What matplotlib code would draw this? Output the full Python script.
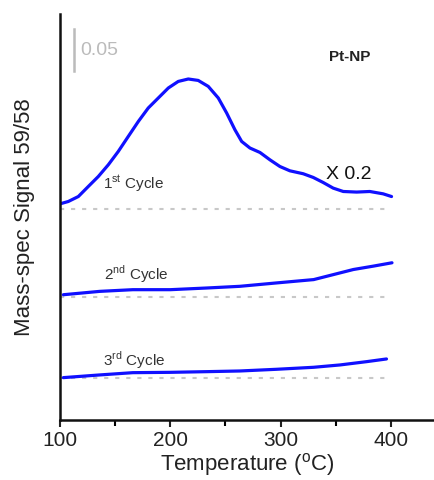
import matplotlib
matplotlib.use("Agg")
import matplotlib.pyplot as plt
from matplotlib.ticker import MultipleLocator

plt.rcParams['font.family'] = ['Liberation Sans', 'DejaVu Sans']
plt.rcParams['mathtext.fontset'] = 'custom'
plt.rcParams['mathtext.rm'] = 'Liberation Sans'

# Data (signal units; 1st cycle shown x 0.2 and offset)
t1 = [100, 107.5, 116.6, 125.6, 134.7, 143.8, 152.8, 161.9, 171.0, 180.0, 189.1,
      198.2, 207.2, 216.3, 225.3, 234.4, 243.5, 251.1, 258.6, 264.7, 272.2, 281.3,
      290.3, 299.4, 308.4, 320.5, 329.6, 338.6, 347.7, 356.8, 368.9, 380.9, 393.0, 400.6]
s1 = [0.2571, 0.2599, 0.2658, 0.2777, 0.2896, 0.3036, 0.3194, 0.3373, 0.3551, 0.3711,
      0.3830, 0.3949, 0.4027, 0.4056, 0.4039, 0.3968, 0.3830, 0.3651, 0.3452, 0.3313,
      0.3235, 0.3182, 0.3095, 0.3015, 0.2964, 0.2929, 0.2885, 0.2825, 0.2758, 0.2718,
      0.2711, 0.2718, 0.2690, 0.2658]
t2 = [103, 136, 166, 200, 233, 263, 296, 330, 348, 366, 384, 401]
s2 = [0.149, 0.153, 0.155, 0.155, 0.157, 0.159, 0.163, 0.167, 0.173, 0.179, 0.183, 0.187]
t3 = [103, 136, 166, 200, 233, 263, 296, 330, 354, 378, 396]
s3 = [0.0504, 0.0536, 0.0563, 0.0567, 0.0575, 0.0583, 0.0603, 0.0627, 0.0655, 0.0694, 0.0726]
baselines = [0.251, 0.146, 0.050]
baseline_range = [100, 396]
cycle_labels = ["1$^{\\mathrm{st}}$ Cycle", "2$^{\\mathrm{nd}}$ Cycle", "3$^{\\mathrm{rd}}$ Cycle"]
label_pos = [(139, 0.274), (140, 0.167), (139, 0.065)]
xticks = [100, 200, 300, 400]

fig = plt.figure(figsize=(4.35, 4.8), dpi=100)
ax = fig.add_axes([0.138, 0.125, 0.862, 0.846])

for b in baselines:
    ax.plot(baseline_range, [b, b], color='#c8c8c8', lw=1.5, ls=(0, (2, 3.3)), zorder=1)

blue = '#1010ff'
for t, s in [(t1, s1), (t2, s2), (t3, s3)]:
    ax.plot(t, s, color=blue, lw=2.3, solid_capstyle='round', solid_joinstyle='round', zorder=2)

for lab, (x, y) in zip(cycle_labels, label_pos):
    ax.text(x, y, lab, fontsize=11, color='#333333', ha='left', va='baseline')

ax.text(341, 0.2865, "X 0.2", fontsize=14, color='#111111', ha='left', va='baseline')
ax.text(363, 0.432, "Pt-NP", fontsize=11, fontweight='bold', color='#222222',
        ha='center', va='center')

# scale bar
ax.plot([112.5, 112.5], [0.415, 0.465], color='#bbbbbb', lw=1.8)
ax.text(118, 0.440, "0.05", fontsize=14, color='#bbbbbb', ha='left', va='center')

ax.set_xlim(100, 440)
ax.set_ylim(0, 0.483)
ax.set_xticks(xticks)
ax.xaxis.set_minor_locator(MultipleLocator(50))
ax.tick_params(axis='x', which='major', length=5, width=1.5, labelsize=15,
               direction='out', colors='#222222', pad=3)
ax.tick_params(axis='x', which='minor', length=4, width=1.5, direction='out')
ax.set_yticks([])
for side in ['top', 'right']:
    ax.spines[side].set_visible(False)
for side in ['left', 'bottom']:
    ax.spines[side].set_linewidth(1.8)
    ax.spines[side].set_color('#111111')

ax.set_xlabel("Temperature ($^{\\mathrm{o}}$C)", fontsize=16, color='#222222', labelpad=1)
ax.set_ylabel("Mass-spec Signal 59/58", fontsize=16, color='#222222', labelpad=18)

fig.savefig("out.png", dpi=100)
